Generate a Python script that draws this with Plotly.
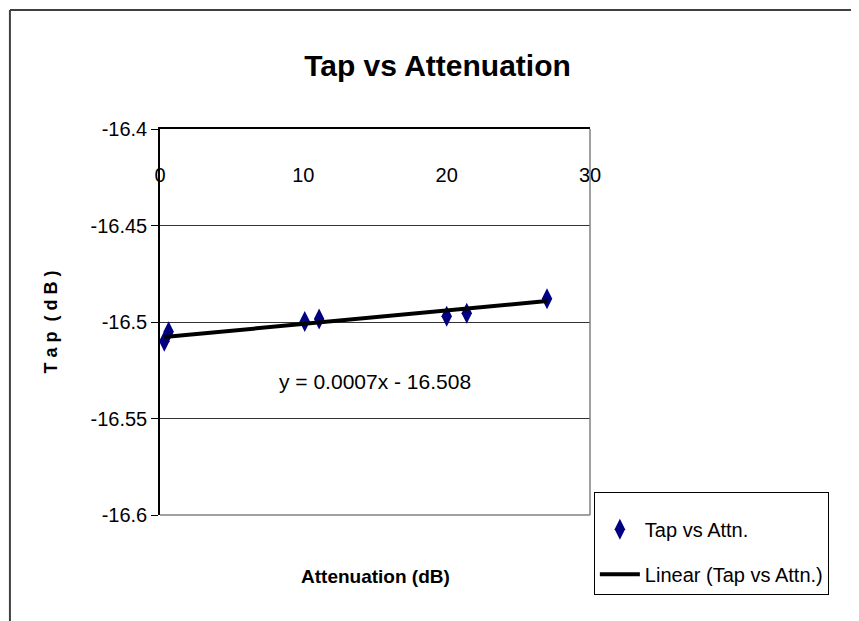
import plotly.graph_objects as go

# Data
attenuation = [0.3, 0.6, 10.1, 11.1, 20.0, 21.4, 27.0]
tap = [-16.510, -16.505, -16.4998, -16.4985, -16.4970, -16.4955, -16.4880]

# Linear trendline from the displayed equation
slope = 0.0007
intercept = -16.508
trend_x = [min(attenuation), max(attenuation)]
trend_y = [slope * v + intercept for v in trend_x]

x_ticks = [0, 10, 20, 30]
y_ticks = [-16.4, -16.45, -16.5, -16.55, -16.6]
y_tick_labels = ["-16.4", "-16.45", "-16.5", "-16.55", "-16.6"]

FONT = "Liberation Sans Narrow, Arial Narrow, Liberation Sans, Arial, sans-serif"

fig = go.Figure()
fig.add_trace(go.Scatter(
    x=attenuation, y=tap, mode="markers", name="Tap vs Attn.",
    marker=dict(symbol="diamond-tall", size=15, color="#000080"),
    cliponaxis=False, legendgroup="a",
))
fig.add_trace(go.Scatter(
    x=trend_x, y=trend_y, mode="lines", name="Linear (Tap vs Attn.)",
    line=dict(color="black", width=4), legendgroup="b",
))

fig.update_layout(
    width=859, height=621,
    margin=dict(l=152, r=277, t=121, b=114, autoexpand=False),
    paper_bgcolor="white", plot_bgcolor="white",
    font=dict(family=FONT, color="black", size=20),
    title=dict(text="<b>Tap vs Attenuation</b>", x=0.5, xanchor="center",
               y=0.908, yanchor="middle", font=dict(size=30, family=FONT)),
    xaxis=dict(range=[0, 30], tickvals=x_ticks, side="top",
               ticklabelposition="inside", ticklabelstandoff=40,
               ticklabeloverflow="allow",
               showgrid=False, showline=True, linecolor="black", linewidth=2,
               zeroline=False, ticks="", tickfont=dict(size=20, color="black")),
    yaxis=dict(range=[-16.6, -16.4], tickvals=y_ticks, ticktext=y_tick_labels,
               ticklabeloverflow="allow",
               showgrid=True, gridcolor="#333333", gridwidth=1,
               showline=True, linecolor="black", linewidth=1.5,
               ticks="outside", ticklen=7, tickcolor="black",
               zeroline=False, tickfont=dict(size=20, color="black"),
               title=dict(text="<b>T a p  ( d B )</b>", standoff=28,
                          font=dict(size=18))),
    legend=dict(x=1.009, y=0.06, xanchor="left", yanchor="top",
                bordercolor="black", borderwidth=1, bgcolor="white",
                title=dict(text=" ", font=dict(size=13)),
                font=dict(size=20), tracegroupgap=16, itemwidth=40),
    showlegend=True,
)

fig.add_annotation(x=15.0, y=-16.5306, xref="x", yref="y",
                   text="y = 0.0007x - 16.508", showarrow=False,
                   font=dict(size=21))
fig.add_annotation(x=0.5, y=-0.16, xref="paper", yref="paper",
                   text="<b>Attenuation (dB)</b>", showarrow=False,
                   yanchor="middle", font=dict(size=19))

# plot-area border (right and bottom, gray)
fig.add_shape(type="line", xref="x domain", yref="y domain", x0=1, x1=1, y0=0, y1=1,
              line=dict(color="#808080", width=1.5))
fig.add_shape(type="line", xref="x domain", yref="y domain", x0=0, x1=1, y0=0, y1=0,
              line=dict(color="#808080", width=1.5))
# chart-area border (left and top edges visible)
fig.add_shape(type="line", xref="paper", yref="paper", x0=-0.349, x1=-0.349, y0=-0.5, y1=1.308,
              line=dict(color="#404040", width=2), layer="below")
fig.add_shape(type="line", xref="paper", yref="paper", x0=-0.349, x1=3, y0=1.308, y1=1.308,
              line=dict(color="#404040", width=2), layer="below")

fig.write_html("out.html")
